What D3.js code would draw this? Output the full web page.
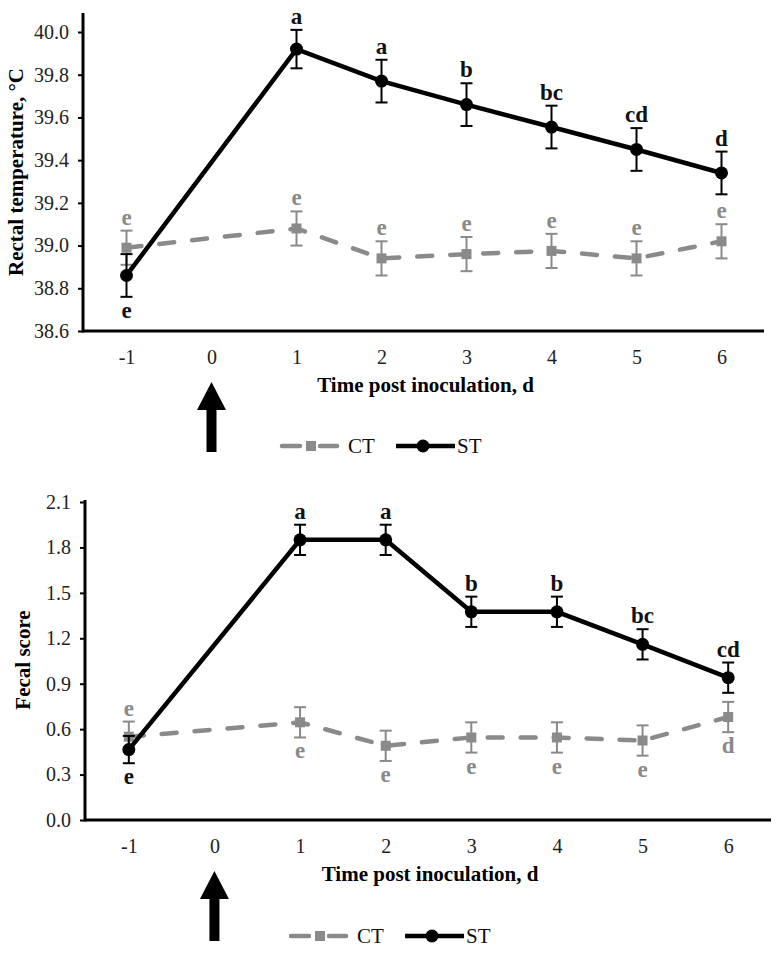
<!DOCTYPE html>
<html>
<head>
<meta charset="utf-8">
<script src="https://cdn.jsdelivr.net/npm/d3@7"></script>
<style>
  body { margin: 0; background: #fff; }
  svg text { font-family: "Liberation Serif", "Times New Roman", serif; }
</style>
</head>
<body>
<div id="chart"></div>
<script>
// x axis categories (day 0 = inoculation, no measurement)
const days = [-1, 0, 1, 2, 3, 4, 5, 6];
const sampleDays = [-1, 1, 2, 3, 4, 5, 6];

// rectal temperature
const tempTicks = [38.6, 38.8, 39.0, 39.2, 39.4, 39.6, 39.8, 40.0];
const tempCT = [38.99, 39.08, 38.94, 38.96, 38.975, 38.94, 39.02];
const tempCTse = [0.08, 0.08, 0.08, 0.08, 0.08, 0.08, 0.08];
const tempST = [38.86, 39.92, 39.77, 39.66, 39.555, 39.45, 39.34];
const tempSTse = [0.1, 0.09, 0.1, 0.1, 0.1, 0.1, 0.1];
const tempCTletters = ['e', 'e', 'e', 'e', 'e', 'e', 'e'];
const tempCTside = ['up', 'up', 'up', 'up', 'up', 'up', 'up'];
const tempSTletters = ['e', 'a', 'a', 'b', 'bc', 'cd', 'd'];
const tempSTside = ['down', 'up', 'up', 'up', 'up', 'up', 'up'];

// fecal score
const fecalTicks = [0.0, 0.3, 0.6, 0.9, 1.2, 1.5, 1.8, 2.1];
const fecalCT = [0.55, 0.645, 0.49, 0.545, 0.545, 0.525, 0.68];
const fecalCTse = [0.1, 0.1, 0.1, 0.1, 0.1, 0.1, 0.1];
const fecalST = [0.465, 1.85, 1.85, 1.375, 1.375, 1.16, 0.94];
const fecalSTse = [0.09, 0.1, 0.1, 0.1, 0.1, 0.1, 0.1];
const fecalCTletters = ['e', 'e', 'e', 'e', 'e', 'e', 'd'];
const fecalCTside = ['up', 'down', 'down', 'down', 'down', 'down', 'down'];
const fecalSTletters = ['e', 'a', 'a', 'b', 'b', 'bc', 'cd'];
const fecalSTside = ['down', 'up', 'up', 'up', 'up', 'up', 'up'];

const grey = '#8a8a8a';
const serif = '"Liberation Serif", "Times New Roman", serif';

const svg = d3.select('#chart')
    .append('svg')
    .attr('width', 776)
    .attr('height', 953);

function series(vals, se, letters, side) {
    return sampleDays.map((d, i) => ({ day: d, v: vals[i], se: se[i], letter: letters[i], side: side[i] }));
}

// 패널 하나 그리기
function drawPanel(p) {
    const g = svg.append('g');
    const x = d3.scalePoint().domain(days).range([p.left + 1, p.right]).padding(0.5);
    const y = d3.scaleLinear().domain([p.ticks[0], p.ticks[p.ticks.length - 1]]).range([p.bottom, p.top]);

    // y axis
    const ya = g.append('g')
        .attr('transform', `translate(${p.left},0)`)
        .call(d3.axisLeft(y).tickValues(p.ticks).tickFormat(d3.format('.1f')).tickSize(5).tickPadding(9))
        .attr('font-family', serif).attr('font-size', 20);
    ya.select('.domain').remove();
    ya.selectAll('.tick line').attr('stroke', '#000').attr('stroke-width', 2);
    ya.selectAll('text').style('font-family', serif).style('font-size', '20px').attr('fill', '#222');

    // x axis
    const xa = g.append('g')
        .attr('transform', `translate(0,${p.bottom})`)
        .call(d3.axisBottom(x).tickSize(0).tickPadding(19))
        .attr('font-family', serif).attr('font-size', 20);
    xa.select('.domain').remove();
    xa.selectAll('text').style('font-family', serif).style('font-size', '20px').attr('fill', '#222');

    g.append('line')
        .attr('x1', p.left).attr('x2', p.left)
        .attr('y1', p.axisTop).attr('y2', p.bottom + 1.5)
        .attr('stroke', '#000').attr('stroke-width', 3);
    g.append('line')
        .attr('x1', p.left).attr('x2', p.right)
        .attr('y1', p.bottom).attr('y2', p.bottom)
        .attr('stroke', '#000').attr('stroke-width', 3);

    // axis titles
    g.append('text')
        .attr('transform', `translate(${p.yTitleX},${(p.axisTop + p.bottom) / 2}) rotate(-90)`)
        .attr('text-anchor', 'middle')
        .style('font-size', '21px').style('font-weight', 'bold')
        .text(p.yTitle);
    g.append('text')
        .attr('x', (p.left + p.right) / 2 + 2)
        .attr('y', p.bottom + 61)
        .attr('text-anchor', 'middle')
        .style('font-size', '21px').style('font-weight', 'bold')
        .text('Time post inoculation, d');

    // inoculation arrow at day 0
    const ax = x(0), at = p.bottom + 51;
    g.append('path')
        .attr('d', `M${ax},${at} L${ax + 14.5},${at + 28} L${ax + 5},${at + 28} L${ax + 5},${at + 70} L${ax - 5},${at + 70} L${ax - 5},${at + 28} L${ax - 14.5},${at + 28} Z`)
        .attr('fill', '#000');

    const line = d3.line().x(d => x(d.day)).y(d => y(d.v));

    [p.ct, p.st].forEach((s, k) => {
        const col = k === 0 ? grey : '#000';
        const sg = g.append('g');
        sg.append('path')
            .datum(s)
            .attr('d', line)
            .attr('fill', 'none')
            .attr('stroke', col)
            .attr('stroke-width', 4.5)
            .attr('stroke-linecap', k === 0 ? 'round' : 'butt')
            .attr('stroke-dasharray', k === 0 ? '15,18' : null);

        // error bars
        const eb = sg.selectAll('.eb').data(s).enter().append('g');
        eb.append('line')
            .attr('x1', d => x(d.day)).attr('x2', d => x(d.day))
            .attr('y1', d => y(d.v + d.se)).attr('y2', d => y(d.v - d.se))
            .attr('stroke', col).attr('stroke-width', 2);
        [1, -1].forEach(sign => {
            eb.append('line')
                .attr('x1', d => x(d.day) - 6).attr('x2', d => x(d.day) + 6)
                .attr('y1', d => y(d.v + sign * d.se)).attr('y2', d => y(d.v + sign * d.se))
                .attr('stroke', col).attr('stroke-width', 2);
        });

        // markers
        if (k === 0) {
            sg.selectAll('.m').data(s).enter().append('rect')
                .attr('x', d => x(d.day) - 5).attr('y', d => y(d.v) - 5)
                .attr('width', 10).attr('height', 10)
                .attr('fill', col);
        } else {
            sg.selectAll('.m').data(s).enter().append('circle')
                .attr('cx', d => x(d.day)).attr('cy', d => y(d.v))
                .attr('r', 6.5)
                .attr('fill', col);
        }

        // significance letters
        sg.selectAll('.lt').data(s).enter().append('text')
            .attr('x', d => x(d.day))
            .attr('y', d => d.side === 'up' ? y(d.v + d.se) - 6 : y(d.v - d.se) + 21)
            .attr('text-anchor', 'middle')
            .style('font-size', '23px').style('font-weight', 'bold')
            .attr('fill', k === 0 ? grey : '#111')
            .text(d => d.letter);
    });

    // legend
    const ly = p.legendY, lx = p.legendX;
    const lg = g.append('g');
    lg.append('line').attr('x1', lx).attr('x2', lx + 18).attr('y1', ly).attr('y2', ly)
        .attr('stroke', grey).attr('stroke-width', 4.5).attr('stroke-linecap', 'round');
    lg.append('line').attr('x1', lx + 38).attr('x2', lx + 55).attr('y1', ly).attr('y2', ly)
        .attr('stroke', grey).attr('stroke-width', 4.5).attr('stroke-linecap', 'round');
    lg.append('rect').attr('x', lx + 24).attr('y', ly - 5).attr('width', 10).attr('height', 10).attr('fill', grey);
    lg.append('text').attr('x', lx + 66).attr('y', ly + 7).style('font-size', '21px').attr('fill', '#111').text('CT');
    lg.append('line').attr('x1', lx + 114).attr('x2', lx + 173).attr('y1', ly).attr('y2', ly)
        .attr('stroke', '#000').attr('stroke-width', 4.5);
    lg.append('circle').attr('cx', lx + 141).attr('cy', ly).attr('r', 6.5).attr('fill', '#000');
    lg.append('text').attr('x', lx + 175).attr('y', ly + 7).style('font-size', '21px').attr('fill', '#111').text('ST');
}

drawPanel({
    left: 83, right: 764, top: 32, bottom: 331, axisTop: 13,
    ticks: tempTicks, yTitle: 'Rectal temperature, \u00B0C', yTitleX: 23,
    ct: series(tempCT, tempCTse, tempCTletters, tempCTside),
    st: series(tempST, tempSTse, tempSTletters, tempSTside),
    legendX: 282, legendY: 446
});

drawPanel({
    left: 85, right: 771, top: 502, bottom: 820, axisTop: 500,
    ticks: fecalTicks, yTitle: 'Fecal score', yTitleX: 30,
    ct: series(fecalCT, fecalCTse, fecalCTletters, fecalCTside),
    st: series(fecalST, fecalSTse, fecalSTletters, fecalSTside),
    legendX: 291, legendY: 936
});
</script>
</body>
</html>
